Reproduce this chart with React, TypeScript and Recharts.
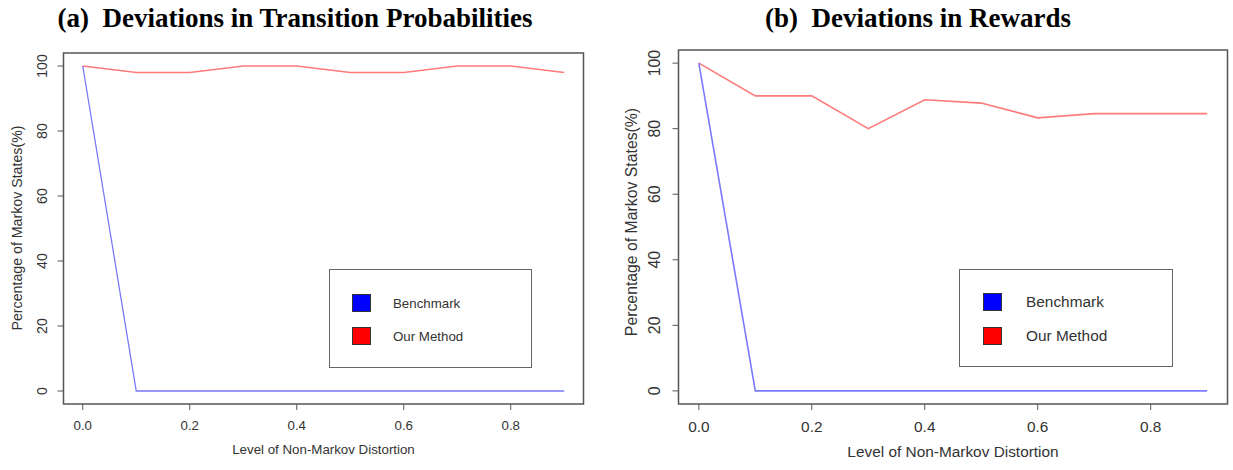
import { LineChart, Line, XAxis, YAxis, ReferenceArea, Legend } from "recharts";

const levels = [0, 0.1, 0.2, 0.3, 0.4, 0.5, 0.6, 0.7, 0.8, 0.9];
const benchmarkTransition = [100, 0, 0, 0, 0, 0, 0, 0, 0, 0];
const ourMethodTransition = [100, 98, 98, 100, 100, 98, 98, 100, 100, 98];
const benchmarkRewards = [100, 0, 0, 0, 0, 0, 0, 0, 0, 0];
const ourMethodRewards = [100, 90, 90, 80, 88.8, 87.8, 83.3, 84.6, 84.6, 84.6];

const xTicks = [0, 0.2, 0.4, 0.6, 0.8];
const yTicks = [0, 20, 40, 60, 80, 100];
const xDomain: [number, number] = [-0.036, 0.936];
const yDomain: [number, number] = [-4, 104];

const seriesNames = ["Benchmark", "Our Method"];
const lineColors = ["#7a7aff", "#ff7a7a"];
const legendColors = ["#0000ff", "#ff0000"];

const SANS = "'Liberation Sans', Arial, sans-serif";
const SERIF = "'Liberation Serif', 'Times New Roman', serif";
const TEXT = "#333";

const makeData = (bench: number[], ours: number[]) =>
  levels.map((level, i) => ({ level, benchmark: bench[i], ours: ours[i] }));

type TickProps = { x?: number; y?: number; payload?: { value: number } };

const XTick = ({ x, y, payload, fontSize }: TickProps & { fontSize: number }) => (
  <text x={x} y={y} textAnchor="middle" dominantBaseline="central" fontSize={fontSize} fill={TEXT} fontFamily={SANS}>
    {payload ? payload.value.toFixed(1) : ""}
  </text>
);

const YTick = ({ x, y, payload, fontSize }: TickProps & { fontSize: number }) => (
  <text
    x={x}
    y={y}
    transform={`rotate(-90 ${x} ${y})`}
    textAnchor="middle"
    dominantBaseline="central"
    fontSize={fontSize}
    fill={TEXT}
    fontFamily={SANS}
  >
    {payload ? payload.value : ""}
  </text>
);

type LegendBox = { left: number; top: number; width: number; height: number; sq: number; textX: number; rows: number[] };

const LegendContent = ({ box, fontSize }: { box: LegendBox; fontSize: number }) => (
  <div
    style={{
      position: "relative",
      width: box.width,
      height: box.height,
      border: "1.5px solid #666",
      boxSizing: "border-box",
      background: "#fff",
      fontFamily: SANS,
      fontSize,
      color: TEXT,
    }}
  >
    {seriesNames.map((name, i) => (
      <div key={name}>
        <div
          style={{
            position: "absolute",
            left: box.sq,
            top: box.rows[i],
            width: 19,
            height: 18,
            background: legendColors[i],
            border: "1px solid #333",
            boxSizing: "border-box",
          }}
        />
        <div style={{ position: "absolute", left: box.textX, top: box.rows[i] + 9, transform: "translateY(-50%)", whiteSpace: "nowrap" }}>
          {name}
        </div>
      </div>
    ))}
  </div>
);

type PanelProps = {
  left: number;
  width: number;
  title: string;
  titleX: number;
  data: { level: number; benchmark: number; ours: number }[];
  plot: { left: number; right: number; top: number; bottom: number };
  hFont: number;
  vFont: number;
  yTickMargin: number;
  xTickMargin: number;
  yTitleX: number;
  yTitleY: number;
  xTitleY: number;
  legend: LegendBox;
  strokeWidth: number;
};

function Panel(p: PanelProps) {
  const H = 470;
  const yAxisW = 50;
  const xAxisH = 50;
  const plotMid = (p.plot.left + p.plot.right) / 2;
  return (
    <div style={{ position: "absolute", left: p.left, top: 0, width: p.width, height: H }}>
      <div
        style={{
          position: "absolute",
          left: p.titleX,
          top: 18,
          transform: "translate(-50%, -50%)",
          whiteSpace: "pre",
          fontFamily: SERIF,
          fontWeight: "bold",
          fontSize: 27,
          color: "#000",
        }}
      >
        {p.title}
      </div>
      <LineChart
        width={p.width}
        height={H}
        data={p.data}
        margin={{
          top: p.plot.top,
          right: p.width - p.plot.right,
          bottom: H - p.plot.bottom - xAxisH,
          left: p.plot.left - yAxisW,
        }}
      >
        <XAxis
          dataKey="level"
          type="number"
          domain={xDomain}
          ticks={xTicks}
          allowDataOverflow
          height={xAxisH}
          axisLine={false}
          tickSize={6}
          tickMargin={p.xTickMargin}
          tickLine={{ stroke: "#555" }}
          tick={<XTick fontSize={p.hFont} />}
        />
        <YAxis
          type="number"
          domain={yDomain}
          ticks={yTicks}
          allowDataOverflow
          width={yAxisW}
          axisLine={false}
          tickSize={6}
          tickMargin={p.yTickMargin}
          tickLine={{ stroke: "#555" }}
          tick={<YTick fontSize={p.vFont} />}
        />
        <Line
          dataKey="ours"
          name={seriesNames[1]}
          stroke={lineColors[1]}
          strokeWidth={p.strokeWidth}
          dot={false}
          type="linear"
          isAnimationActive={false}
        />
        <Line
          dataKey="benchmark"
          name={seriesNames[0]}
          stroke={lineColors[0]}
          strokeWidth={p.strokeWidth}
          dot={false}
          type="linear"
          isAnimationActive={false}
        />
        <ReferenceArea
          x1={xDomain[0]}
          x2={xDomain[1]}
          y1={yDomain[0]}
          y2={yDomain[1]}
          fill="none"
          stroke="#555"
          strokeWidth={1.5}
          ifOverflow="visible"
        />
        <Legend
          layout="vertical"
          align="center"
          verticalAlign="middle"
          wrapperStyle={{ left: p.legend.left, top: p.legend.top, width: p.legend.width, height: p.legend.height }}
          content={() => <LegendContent box={p.legend} fontSize={p.hFont} />}
        />
      </LineChart>
      <div
        style={{
          position: "absolute",
          left: p.yTitleX,
          top: p.yTitleY,
          transform: "translate(-50%, -50%) rotate(-90deg)",
          whiteSpace: "nowrap",
          fontFamily: SANS,
          fontSize: p.vFont,
          color: TEXT,
        }}
      >
        Percentage of Markov States(%)
      </div>
      <div
        style={{
          position: "absolute",
          left: plotMid,
          top: p.xTitleY,
          transform: "translate(-50%, -50%)",
          whiteSpace: "nowrap",
          fontFamily: SANS,
          fontSize: p.hFont,
          lineHeight: 1,
          color: TEXT,
        }}
      >
        Level of Non-Markov Distortion
      </div>
    </div>
  );
}

export default function App() {
  return (
    <div style={{ position: "fixed", left: 0, top: 0, width: 1233, height: 470, background: "#fff", overflow: "hidden" }}>
      <Panel
        left={0}
        width={620}
        title="(a)  Deviations in Transition Probabilities"
        titleX={295}
        data={makeData(benchmarkTransition, ourMethodTransition)}
        plot={{ left: 63.5, right: 583.5, top: 53, bottom: 404 }}
        hFont={13.3}
        vFont={14.2}
        yTickMargin={15.5}
        xTickMargin={15}
        yTitleX={17}
        yTitleY={228}
        xTitleY={450}
        legend={{ left: 329, top: 269, width: 203, height: 99, sq: 22, textX: 63, rows: [24, 57] }}
        strokeWidth={1.3}
      />
      <Panel
        left={620}
        width={613}
        title="(b)  Deviations in Rewards"
        titleX={298}
        data={makeData(benchmarkRewards, ourMethodRewards)}
        plot={{ left: 58.5, right: 607.5, top: 50, bottom: 404 }}
        hFont={15.4}
        vFont={15.8}
        yTickMargin={17.5}
        xTickMargin={16}
        yTitleX={12}
        yTitleY={222}
        xTitleY={452}
        legend={{ left: 339, top: 269, width: 214, height: 98, sq: 23, textX: 66, rows: [23, 57] }}
        strokeWidth={1.6}
      />
    </div>
  );
}
